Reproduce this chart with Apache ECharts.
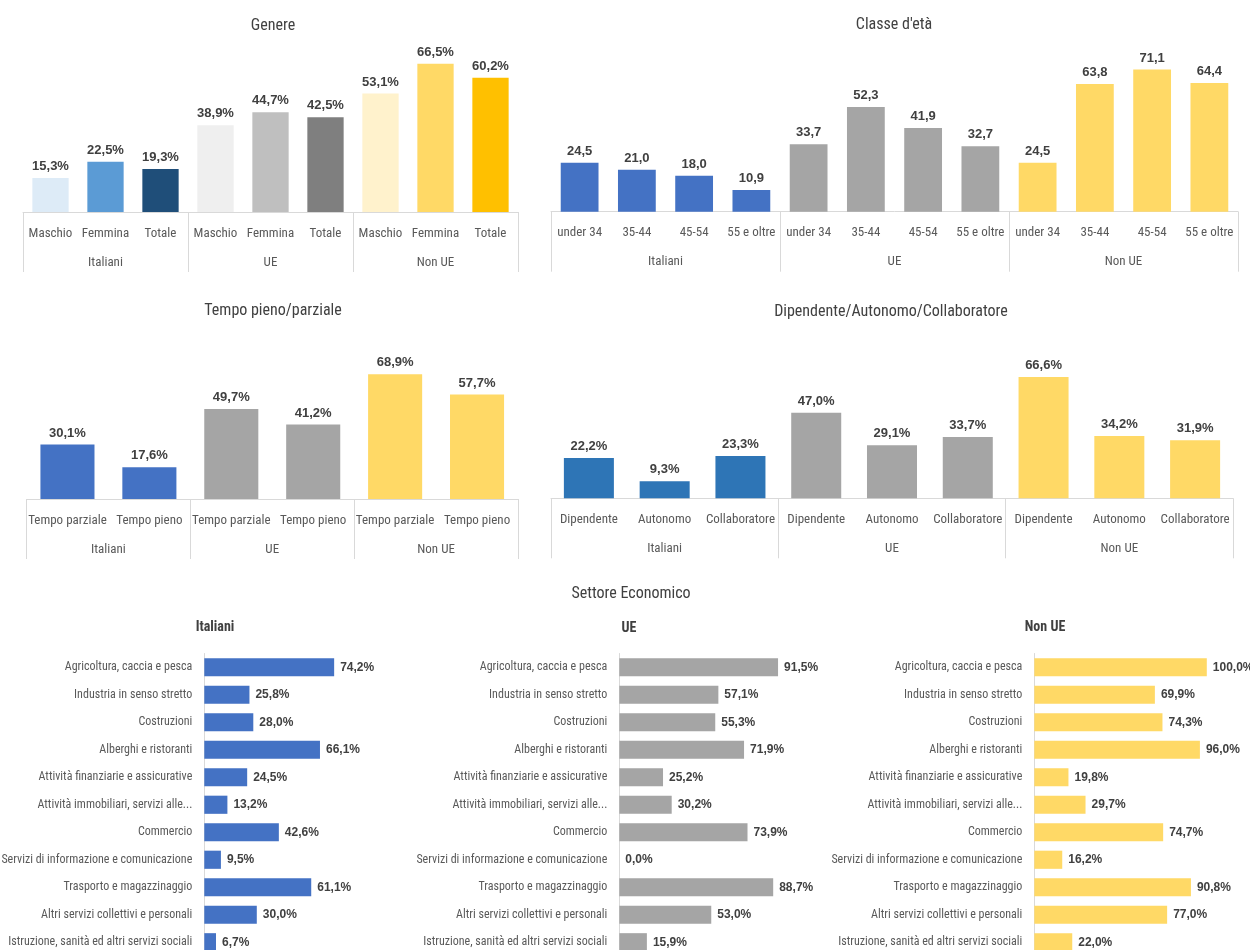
<!DOCTYPE html>
<html>
<head>
<meta charset="utf-8">
<title>Occupati per cittadinanza</title>
<script src="https://cdn.jsdelivr.net/npm/echarts@6/dist/echarts.min.js"></script>
<style>
  html, body { margin: 0; padding: 0; background: #fff; }
  #chart { width: 1250px; height: 950px; }
</style>
</head>
<body>
<div id="chart"></div>
<script>
// gruppi di cittadinanza
const gruppi = ['Italiani', 'UE', 'Non UE']

// Genere
const genereVoci = ['Maschio', 'Femmina', 'Totale']
const genereValori = [15.3, 22.5, 19.3, 38.9, 44.7, 42.5, 53.1, 66.5, 60.2]

// Classe d'età
const etaVoci = ['under 34', '35-44', '45-54', '55 e oltre']
const etaValori = [24.5, 21.0, 18.0, 10.9, 33.7, 52.3, 41.9, 32.7, 24.5, 63.8, 71.1, 64.4]

// Tempo pieno/parziale
const tempoVoci = ['Tempo parziale', 'Tempo pieno']
const tempoValori = [30.1, 17.6, 49.7, 41.2, 68.9, 57.7]

// Dipendente/Autonomo/Collaboratore
const posizioneVoci = ['Dipendente', 'Autonomo', 'Collaboratore']
const posizioneValori = [22.2, 9.3, 23.3, 47.0, 29.1, 33.7, 66.6, 34.2, 31.9]

// Settore economico
const settori = [
  'Agricoltura, caccia e pesca',
  'Industria in senso stretto',
  'Costruzioni',
  'Alberghi e ristoranti',
  'Attività finanziarie e assicurative',
  'Attività immobiliari, servizi alle...',
  'Commercio',
  'Servizi di informazione e comunicazione',
  'Trasporto e magazzinaggio',
  'Altri servizi collettivi e personali',
  'Istruzione, sanità ed altri servizi sociali'
]
const settoreItaliani = [74.2, 25.8, 28.0, 66.1, 24.5, 13.2, 42.6, 9.5, 61.1, 30.0, 6.7]
const settoreUE = [91.5, 57.1, 55.3, 71.9, 25.2, 30.2, 73.9, 0.0, 88.7, 53.0, 15.9]
const settoreNonUE = [100.0, 69.9, 74.3, 96.0, 19.8, 29.7, 74.7, 16.2, 90.8, 77.0, 22.0]

// colori
const coloriGenere = ['#DDEBF7', '#5B9BD5', '#1F4E79', '#EFEFEF', '#BFBFBF', '#7F7F7F', '#FFF2CC', '#FFD966', '#FFC000']
const coloriGruppo = ['#4472C4', '#A5A5A5', '#FFD966']
const coloriPosizione = ['#2E75B6', '#A5A5A5', '#FFD966']

const FONT_NARROW = "'Roboto Condensed', 'DejaVu Sans Condensed', sans-serif"
const FONT = "'Liberation Sans', Arial, sans-serif"
const GRIGIO_ASSE = '#D9D9D9'

const percento = v => v.toFixed(1).replace('.', ',') + '%'
const numero = v => v.toFixed(1).replace('.', ',')

const grid = []
const xAxis = []
const yAxis = []
const series = []

// istogramma con asse a due livelli (voce / gruppo)
const addIstogramma = (box, voci, valori, colore, formato) => {
  const gi = grid.length
  const xi = xAxis.length
  grid.push({
    left: box.left,
    top: box.axisY - box.height,
    width: box.width,
    height: box.height,
    containLabel: false,
    outerBoundsMode: 'none'
  })
  xAxis.push({
    type: 'category',
    gridIndex: gi,
    position: 'bottom',
    data: gruppi.flatMap(() => voci),
    axisLine: { lineStyle: { color: GRIGIO_ASSE } },
    axisTick: { show: false },
    axisLabel: { interval: 0, margin: 15, fontFamily: FONT_NARROW, fontSize: 13, color: '#595959' }
  })
  xAxis.push({
    type: 'category',
    gridIndex: gi,
    position: 'bottom',
    data: gruppi,
    axisLine: { show: false },
    axisTick: { show: true, length: 60, interval: 0, lineStyle: { color: GRIGIO_ASSE } },
    axisLabel: { interval: 0, margin: 44, fontFamily: FONT_NARROW, fontSize: 13, color: '#595959' }
  })
  yAxis.push({ type: 'value', gridIndex: gi, min: 0, max: 80, show: false })
  series.push({
    type: 'bar',
    xAxisIndex: xi,
    yAxisIndex: gi,
    barWidth: '66%',
    data: valori.map((v, i) => ({ value: v, itemStyle: { color: colore(i) } })),
    label: {
      show: true,
      position: 'top',
      distance: 5,
      formatter: p => formato(p.value),
      fontFamily: FONT,
      fontWeight: 'bold',
      fontSize: 13,
      color: '#404040'
    }
  })
}

// barre orizzontali per settore
const addSettore = (left, width, valori, colore) => {
  const gi = grid.length
  grid.push({ left, top: 653.5, width, height: 302.5, containLabel: false, outerBoundsMode: 'none' })
  xAxis.push({ type: 'value', gridIndex: gi, min: 0, max: 100, show: false })
  yAxis.push({
    type: 'category',
    gridIndex: gi,
    inverse: true,
    data: settori,
    axisLine: { lineStyle: { color: GRIGIO_ASSE } },
    axisTick: { show: false },
    axisLabel: { interval: 0, margin: 12, fontFamily: FONT_NARROW, fontSize: 12, color: '#595959' }
  })
  series.push({
    type: 'bar',
    xAxisIndex: xAxis.length - 1,
    yAxisIndex: yAxis.length - 1,
    barWidth: '66%',
    itemStyle: { color: colore },
    data: valori,
    label: {
      show: true,
      position: 'right',
      distance: 6,
      formatter: p => percento(p.value),
      fontFamily: FONT,
      fontWeight: 'bold',
      fontSize: 12,
      color: '#404040'
    }
  })
}

const perGruppo = (colori, n) => i => colori[Math.floor(i / n)]

addIstogramma({ left: 23, width: 495, axisY: 212, height: 178.4 }, genereVoci, genereValori, i => coloriGenere[i], percento)
addIstogramma({ left: 551, width: 687, axisY: 211.7, height: 160 }, etaVoci, etaValori, perGruppo(coloriGruppo, 4), numero)
addIstogramma({ left: 26.5, width: 491.5, axisY: 499, height: 144.8 }, tempoVoci, tempoValori, perGruppo(coloriGruppo, 2), percento)
addIstogramma({ left: 551, width: 682, axisY: 498.3, height: 145.6 }, posizioneVoci, posizioneValori, perGruppo(coloriPosizione, 3), percento)

addSettore(204.3, 175, settoreItaliani, coloriGruppo[0])
addSettore(619.3, 173.5, settoreUE, coloriGruppo[1])
addSettore(1034.3, 172.5, settoreNonUE, coloriGruppo[2])

const titolo = (text, x, y, size, weight) => ({
  text,
  left: x,
  top: y - size / 2 + 2,
  textAlign: 'center',
  padding: 0,
  textStyle: { fontFamily: FONT_NARROW, fontSize: size, fontWeight: weight, color: '#404040' }
})

const options = {
  backgroundColor: '#ffffff',
  animation: false,
  title: [
    titolo('Genere', 273, 24, 16, 'normal'),
    titolo("Classe d'età", 894, 23, 16, 'normal'),
    titolo('Tempo pieno/parziale', 273, 309, 16, 'normal'),
    titolo('Dipendente/Autonomo/Collaboratore', 891, 310, 16, 'normal'),
    titolo('Settore Economico', 631, 592, 16, 'normal'),
    titolo('Italiani', 215, 625, 14, 'bold'),
    titolo('UE', 629, 626, 14, 'bold'),
    titolo('Non UE', 1045, 625, 14, 'bold')
  ],
  grid,
  xAxis,
  yAxis,
  series
}

const chart = echarts.init(document.getElementById('chart'))
chart.setOption(options)
</script>
</body>
</html>
